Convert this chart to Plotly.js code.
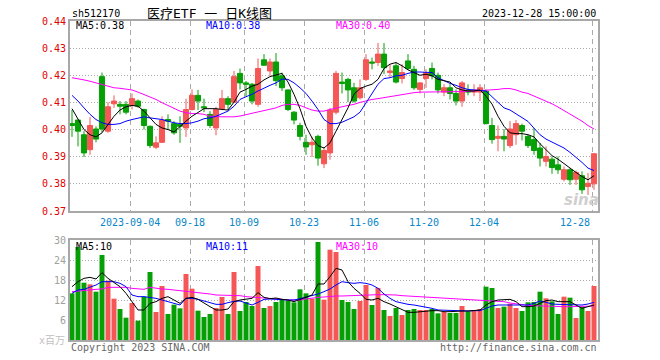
<!DOCTYPE html>
<html><head><meta charset="utf-8">
<script src="https://cdn.plot.ly/plotly-3.0.1.min.js"></script>
<style>html,body{margin:0;padding:0;background:#fff}#chart{width:660px;height:360px}</style>
</head><body><div id="chart"></div>
<script>
// ---- data ----
const openP = [
.4022,.4035,.3981,.3926,.4002,.4195,.3994,.4095,.4093,.4093,
.4089,.4105,.4074,.4012,.3935,.3953,.4037,.4022,.4019,.4006,
.4074,.4126,.4084,.4056,.4006,.4077,.4114,.4101,.4207,.4172,
.4167,.4093,.4257,.4216,.4249,.4198,.4146,.4064,.4015,.3953,
.3944,.3975,.3874,.3914,.4064,.4175,.4185,.4154,.4117,.4185,
.4249,.4247,.4278,.4210,.4235,.4188,.4253,.4222,.4148,.4188,
.4225,.4200,.4138,.4154,.4133,.4105,.4146,.4138,.4138,.4142,
.4015,.3968,.3975,.3941,.3981,.4015,.3975,.3963,.3932,.3883,
.3891,.3870,.3817,.3852,.3817,.3830,.3790,.3800];
const highP = [
.4072,.4037,.3994,.4046,.4012,.4210,.4101,.4126,.4105,.4105,
.4133,.4111,.4077,.4015,.3975,.4049,.4056,.4031,.4049,.4114,
.4148,.4146,.4114,.4068,.4084,.4146,.4123,.4216,.4225,.4179,
.4172,.4262,.4278,.4262,.4282,.4210,.4148,.4068,.4025,.3981,
.3973,.3981,.3936,.4080,.4216,.4210,.4191,.4172,.4185,.4278,
.4265,.4319,.4319,.4240,.4247,.4241,.4278,.4235,.4175,.4222,
.4247,.4210,.4167,.4167,.4148,.4179,.4167,.4167,.4167,.4148,
.4043,.4015,.4002,.4031,.4035,.4022,.3981,.4006,.3951,.3938,
.3901,.3901,.3864,.3858,.3849,.3846,.3840,.3914];
const lowP = [
.3973,.3938,.3899,.3907,.3953,.3990,.3988,.4080,.4056,.4056,
.4074,.4080,.4000,.3932,.3928,.3951,.4000,.3981,.3951,.3973,
.4070,.4072,.4064,.4006,.3979,.4072,.4074,.4099,.4148,.4123,
.4093,.4084,.4235,.4198,.4160,.4142,.4068,.4019,.3960,.3907,
.3899,.3867,.3858,.3889,.4056,.4133,.4101,.4099,.4111,.4179,
.4222,.4235,.4204,.4191,.4170,.4170,.4220,.4146,.4133,.4154,
.4185,.4133,.4123,.4111,.4089,.4084,.4126,.4123,.4105,.4019,
.3948,.3920,.3920,.3932,.3944,.3960,.3932,.3907,.3864,.3864,
.3837,.3837,.3809,.3796,.3796,.3763,.3759,.3778];
const closeP = [
.4015,.3994,.3914,.4015,.3965,.4002,.4084,.4105,.4086,.4064,
.4114,.4086,.4015,.3941,.3951,.4035,.4031,.3988,.4012,.4074,
.4126,.4105,.4080,.4015,.4074,.4114,.4093,.4195,.4172,.4167,
.4105,.4225,.4237,.4249,.4180,.4154,.4074,.4035,.3975,.3936,
.3953,.3895,.3923,.4072,.4207,.4170,.4146,.4105,.4154,.4257,
.4245,.4278,.4228,.4216,.4175,.4210,.4225,.4154,.4172,.4210,
.4198,.4146,.4154,.4133,.4105,.4172,.4138,.4146,.4154,.4022,
.3963,.3975,.3965,.4002,.4022,.3994,.3941,.3923,.3895,.3901,
.3860,.3852,.3852,.3815,.3842,.3778,.3802,.3911];
const ma5 = [
.4077,.4037,.4000,.3981,.3973,.3988,.4019,.4049,.4072,.4084,
.4089,.4086,.4068,.4043,.4019,.4006,.4000,.3991,.4012,.4031,
.4049,.4064,.4077,.4077,.4077,.4074,.4072,.4101,.4138,.4148,
.4160,.4167,.4183,.4195,.4200,.4207,.4175,.4130,.4077,.4012,
.3969,.3941,.3932,.3951,.3994,.4037,.4080,.4130,.4151,.4160,
.4167,.4185,.4225,.4241,.4247,.4235,.4220,.4210,.4200,.4204,
.4198,.4185,.4179,.4175,.4154,.4146,.4142,.4142,.4146,.4123,
.4094,.4049,.4012,.3988,.3985,.3985,.3981,.3973,.3948,.3926,
.3904,.3891,.3874,.3858,.3842,.3827,.3815,.3830];
const ma10 = [
.4126,.4105,.4080,.4056,.4037,.4025,.4019,.4019,.4022,.4031,
.4037,.4043,.4047,.4043,.4040,.4037,.4031,.4025,.4022,.4022,
.4025,.4031,.4040,.4043,.4049,.4059,.4068,.4086,.4111,.4121,
.4130,.4142,.4154,.4163,.4172,.4186,.4185,.4172,.4154,.4133,
.4105,.4074,.4037,.4022,.4022,.4027,.4037,.4047,.4064,.4099,
.4136,.4167,.4188,.4191,.4198,.4200,.4207,.4212,.4212,.4212,
.4210,.4191,.4179,.4170,.4163,.4154,.4148,.4146,.4146,.4142,
.4121,.4101,.4080,.4072,.4059,.4043,.4030,.4005,.3981,.3965,
.3953,.3944,.3932,.3916,.3899,.3879,.3858,.3849];
const ma30 = [
.4191,.4188,.4183,.4178,.4172,.4167,.4160,.4154,.4152,.4148,
.4146,.4138,.4130,.4121,.4111,.4099,.4089,.4077,.4068,.4062,
.4059,.4059,.4056,.4049,.4047,.4047,.4047,.4047,.4050,.4055,
.4060,.4066,.4070,.4074,.4080,.4089,.4093,.4093,.4089,.4080,
.4072,.4068,.4068,.4074,.4080,.4084,.4089,.4093,.4100,.4106,
.4111,.4114,.4118,.4122,.4126,.4130,.4133,.4136,.4138,.4138,
.4138,.4138,.4138,.4138,.4138,.4140,.4141,.4142,.4144,.4146,
.4146,.4148,.4151,.4151,.4146,.4138,.4133,.4124,.4114,.4105,
.4095,.4083,.4070,.4055,.4045,.4031,.4015,.4002];
const volume = [
14.0,27.9,17.2,16.7,14.5,25.5,17.8,12.4,9.3,6.7,
11.1,5.8,13.0,20.4,8.4,16.2,7.8,10.6,9.5,19.8,
15.4,8.8,6.9,7.8,9.6,12.9,7.8,20.4,8.7,11.4,
10.2,22.2,9.6,10.2,11.4,12.0,11.8,11.3,15.2,14.0,
12.4,29.4,12.1,27.1,26.4,12.0,11.4,9.3,11.7,16.5,
10.5,15.6,9.0,7.2,9.6,7.5,9.0,9.3,9.0,9.0,
9.3,8.0,8.4,8.1,8.1,10.2,8.6,9.0,9.3,16.0,
15.6,9.6,10.0,10.9,9.6,8.7,11.3,11.4,14.5,12.5,
11.6,7.8,13.0,12.7,6.6,10.0,8.7,16.2];
const volMa5 = [
16.0,17.5,18.5,18.8,18.3,20.2,18.5,17.2,16.0,14.0,
11.5,9.0,9.0,11.0,11.5,12.5,13.0,12.0,11.0,12.5,
12.8,12.2,11.0,10.0,9.0,9.0,9.3,11.5,12.0,12.3,
12.5,14.2,12.8,12.4,12.6,12.2,12.0,11.5,12.2,12.8,
13.5,16.8,16.8,19.0,21.5,21.0,17.5,15.5,14.0,12.2,
12.0,12.5,11.5,10.8,10.0,9.0,8.3,8.3,8.5,8.8,
8.8,8.8,8.5,8.5,8.7,8.7,8.7,8.8,9.0,10.5,
11.5,12.0,12.0,12.2,11.5,10.0,10.0,10.2,11.0,11.8,
12.0,11.5,11.5,11.5,10.5,9.5,10.0,10.5];
const volMa10 = [
14.0,15.0,15.2,15.8,16.5,17.5,17.5,17.5,17.0,16.0,
13.5,13.0,13.0,12.8,12.5,12.0,11.5,11.0,10.5,12.5,
12.5,12.2,11.8,11.2,10.7,10.7,11.2,11.6,11.7,11.0,
10.5,11.3,12.2,12.3,12.3,12.1,12.0,12.0,12.4,12.8,
13.2,13.8,14.5,15.3,16.5,17.5,17.2,17.0,17.2,17.0,
16.5,15.5,13.8,12.5,11.5,11.0,10.7,10.5,10.2,9.8,
9.5,9.0,8.9,8.8,8.7,8.7,8.7,8.8,8.8,9.5,
10.2,10.5,10.5,10.5,10.5,10.5,10.5,11.0,11.7,11.3,
10.8,10.7,10.7,10.7,10.6,10.5,10.8,11.3];
const volMa30 = [
14.5,14.7,15.0,15.1,15.2,15.3,15.8,15.8,15.8,15.8,
15.5,15.3,15.2,15.8,15.5,15.3,15.2,15.0,14.9,14.8,
14.6,14.3,14.0,13.8,13.5,13.5,13.5,13.5,13.3,13.0,
12.9,12.8,12.7,12.5,12.4,12.2,12.0,12.0,12.0,12.3,
12.6,12.8,12.9,13.1,13.2,13.2,13.3,13.4,13.5,13.6,
13.6,13.6,13.6,13.6,13.5,13.3,13.2,13.1,13.0,12.8,
12.7,12.6,12.5,12.4,12.3,12.3,12.2,12.1,12.1,12.0,
11.8,11.6,11.5,11.1,10.8,10.6,10.4,10.3,10.2,10.2,
10.1,10.0,10.0,10.0,10.0,10.0,10.1,10.2];
const tickIdx = [10, 20, 29, 39, 49, 59, 69, 87];
const tickLabels = ['2023-09-04','09-18','10-09','10-23','11-06','11-20','12-04','12-28'];
const priceTicks = [0.37,0.38,0.39,0.40,0.41,0.42,0.43,0.44];
const volTicks = [6,12,18,24,30];
const headerLabels = {code:'sh512170', title:'医疗ETF 一 日K线图', time:'2023-12-28 15:00:00'};
const priceMaLabels = ['MA5:0.38','MA10:0.38','MA30:0.40'];
const volMaLabels = ['MA5:10','MA10:11','MA30:10'];

// ---- drawing ----
const RED = '#f55656', GREEN = '#06a006';
const idx = openP.map((_, i) => i);
const MONO = 'DejaVu Sans Mono, Liberation Mono, monospace';
// pixel -> paper helpers (plot area: x 70..598, y 21..340)
const L = 70, R = 598, T = 21, B = 340;
const px = x => (x - L) / (R - L);
const py = y => (B - y) / (B - T);
const gridX = tickIdx.map(v => v - 1/3);

const traces = [
  {type:'candlestick', x:idx, open:openP, high:highP, low:lowP, close:closeP,
   xaxis:'x', yaxis:'y', whiskerwidth:0, hoverinfo:'skip',
   increasing:{line:{color:RED,width:1}, fillcolor:RED},
   decreasing:{line:{color:GREEN,width:1}, fillcolor:GREEN}},
  {type:'scatter', mode:'lines', x:idx, y:ma30, xaxis:'x', yaxis:'y', line:{color:'#ff00ff',width:1}, hoverinfo:'skip'},
  {type:'scatter', mode:'lines', x:idx, y:ma10, xaxis:'x', yaxis:'y', line:{color:'#0000ff',width:1}, hoverinfo:'skip'},
  {type:'scatter', mode:'lines', x:idx, y:ma5, xaxis:'x', yaxis:'y', line:{color:'#000000',width:1}, hoverinfo:'skip'},
  {type:'bar', x:idx, y:volume, xaxis:'x2', yaxis:'y2', hoverinfo:'skip',
   marker:{color: idx.map(i => closeP[i] >= openP[i] ? RED : GREEN), line:{width:0}}},
  {type:'scatter', mode:'lines', x:idx, y:volMa30, xaxis:'x2', yaxis:'y2', line:{color:'#ff00ff',width:1}, hoverinfo:'skip'},
  {type:'scatter', mode:'lines', x:idx, y:volMa10, xaxis:'x2', yaxis:'y2', line:{color:'#0000ff',width:1}, hoverinfo:'skip'},
  {type:'scatter', mode:'lines', x:idx, y:volMa5, xaxis:'x2', yaxis:'y2', line:{color:'#000000',width:1}, hoverinfo:'skip'}
];

const xCommon = {
  type:'linear', range:[-1/3, 87 + 2/3], tickvals:gridX, showticklabels:false, ticks:'',
  showgrid:true, gridcolor:'#aaaaaa', griddash:'5px,4px', gridwidth:1, zeroline:false,
  showline:true, mirror:true, linecolor:'#a8a8a8', linewidth:2, fixedrange:true
};
const priceTop = py(T), priceBot = py(211), volTop = py(240);

const ann = [];
function txt(text, x, y, xanchor, color, size, family, extra) {
  ann.push(Object.assign({text, x:px(x), y:py(y), xref:'paper', yref:'paper', xanchor, yanchor:'middle',
    showarrow:false, font:{family: family || MONO, size: size || 10, color}}, extra || {}));
}
txt(headerLabels.code, 70, 13, 'left', '#000');
txt(headerLabels.title, 209, 13, 'center', '#000', 13, 'DejaVu Sans Mono, Noto Sans CJK SC');
txt(headerLabels.time, 598, 13, 'right', '#000');
txt(priceMaLabels[0], 74, 26, 'left', '#000');
txt(priceMaLabels[1], 204, 26, 'left', '#0000ff');
txt(priceMaLabels[2], 334, 26, 'left', '#ff00ff');
txt(volMaLabels[0], 74, 246, 'left', '#000');
txt(volMaLabels[1], 204, 246, 'left', '#0000ff');
txt(volMaLabels[2], 334, 246, 'left', '#ff00ff');
tickIdx.forEach((v, k) => {
  const last = k === tickIdx.length - 1;
  ann.push({text:tickLabels[k], x:gridX[k] + (last ? 0 : 0), y:py(222), xref:'x', yref:'paper',
    xanchor: last ? 'right' : 'center', yanchor:'middle', showarrow:false,
    font:{family:MONO, size:10, color:'#0a86c8'}});
});
txt('x百万', 67, 340, 'right', '#c0c0c0', 10, 'DejaVu Sans Mono, Noto Sans CJK SC');
txt('Copyright 2023 SINA.COM', 69, 347, 'left', '#666');
txt('http://finance.sina.com.cn', 599, 347, 'right', '#666');
txt('<b><i>sina</i></b>', 581, 200, 'center', '#cfcfcf', 15, 'DejaVu Sans, sans-serif');

const layout = {
  width:660, height:360, margin:{l:L, r:660-R, t:T, b:360-B, pad:0},
  paper_bgcolor:'#ffffff', plot_bgcolor:'#ffffff', showlegend:false,
  boxgap:0.15, boxgroupgap:0, bargap:0.17, hovermode:false,
  xaxis: Object.assign({}, xCommon, {anchor:'y', rangeslider:{visible:false}}),
  xaxis2: Object.assign({}, xCommon, {anchor:'y2'}),
  yaxis: {domain:[priceBot, 1], range:[0.37, 0.44], tickvals:priceTicks, tickformat:'.2f',
    tickfont:{family:MONO, size:10, color:'#e00000'}, ticks:'', showgrid:true, gridcolor:'#aaaaaa',
    griddash:'1px,2px', gridwidth:1, zeroline:false, showline:true, mirror:true, linecolor:'#a8a8a8', linewidth:2, fixedrange:true},
  yaxis2: {domain:[0, volTop], range:[0, 30], tickvals:volTicks,
    tickfont:{family:MONO, size:10, color:'#a0a0a0'}, ticks:'', showgrid:true, gridcolor:'#aaaaaa',
    griddash:'1px,2px', gridwidth:1, zeroline:false, showline:true, mirror:true, linecolor:'#a8a8a8', linewidth:2, fixedrange:true},
  annotations: ann
};
Plotly.newPlot('chart', traces, layout, {displayModeBar:false, staticPlot:true});
</script></body></html>
